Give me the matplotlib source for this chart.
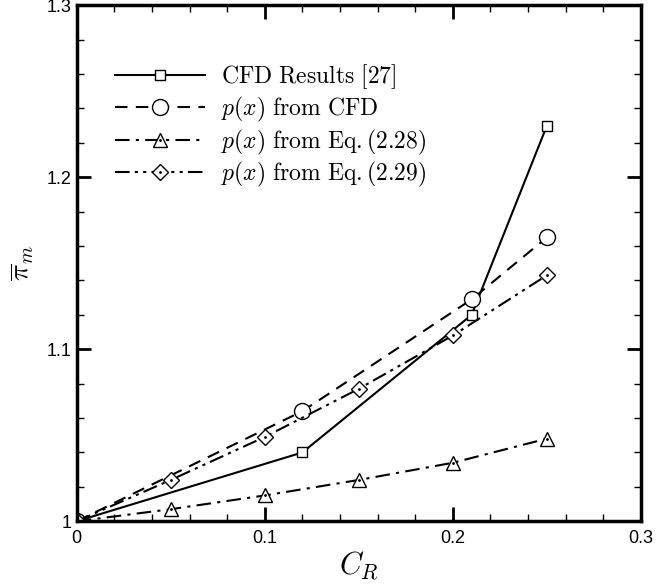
import matplotlib
matplotlib.use("Agg")
import matplotlib.pyplot as plt
from matplotlib.ticker import MultipleLocator
from matplotlib.legend_handler import HandlerTuple

plt.rcParams['mathtext.fontset'] = 'cm'
plt.rcParams['font.family'] = ['Liberation Sans', 'DejaVu Sans']

# data
cfd_x = [0.0, 0.12, 0.21, 0.25]
cfd_y = [1.0, 1.04, 1.12, 1.23]
pcfd_x = [0.0, 0.12, 0.21, 0.25]
pcfd_y = [1.0, 1.064, 1.129, 1.165]
eq28_x = [0.0, 0.05, 0.10, 0.15, 0.20, 0.25]
eq28_y = [1.0, 1.007, 1.015, 1.024, 1.034, 1.048]
eq29_x = [0.0, 0.05, 0.10, 0.15, 0.20, 0.25]
eq29_y = [1.0, 1.024, 1.049, 1.077, 1.108, 1.143]

xticks = [0, 0.1, 0.2, 0.3]
xticklabels = ['0', '0.1', '0.2', '0.3']
yticks = [1.0, 1.1, 1.2, 1.3]
yticklabels = ['1', '1.1', '1.2', '1.3']

labels = [r'$\mathrm{CFD\ Results\ [27]}$',
          r'$p(x)\ \mathrm{from\ CFD}$',
          r'$p(x)\ \mathrm{from\ Eq.(2.28)}$',
          r'$p(x)\ \mathrm{from\ Eq.(2.29)}$']

fig = plt.figure(figsize=(6.56, 5.85), dpi=100)
ax = fig.add_axes([0.117, 0.109, 0.860, 0.882])

lw = 1.5
l1, = ax.plot(cfd_x, cfd_y, 'k-', lw=lw, marker='s', ms=7.5, mfc='white', mec='k', mew=1.0)
l2, = ax.plot(pcfd_x, pcfd_y, 'k', ls=(0, (6, 4)), lw=lw, marker='o', ms=11.5, mfc='white', mec='k', mew=1.0)
l3, = ax.plot(eq28_x, eq28_y, 'k', ls=(0, (7, 3, 1.5, 3)), lw=lw, marker='^', ms=10.5, mfc='white', mec='k', mew=1.0)
d3, = ax.plot(eq28_x, eq28_y, 'k', ls='none', marker='.', ms=2)
l4, = ax.plot(eq29_x, eq29_y, 'k', ls=(0, (7, 2.5, 1.5, 2.5, 1.5, 2.5)), lw=lw, marker='D', ms=8.5, mfc='white', mec='k', mew=1.0)
d4, = ax.plot(eq29_x, eq29_y, 'k', ls='none', marker='.', ms=2)

ax.set_xlim(0, 0.3)
ax.set_ylim(1.0, 1.3)
ax.set_xticks(xticks)
ax.set_xticklabels(xticklabels)
ax.set_yticks(yticks)
ax.set_yticklabels(yticklabels)
ax.xaxis.set_minor_locator(MultipleLocator(0.02))
ax.yaxis.set_minor_locator(MultipleLocator(0.02))
ax.tick_params(which='both', direction='in', top=True, right=True, labelsize=13, width=1.5)
ax.tick_params(which='major', length=10, width=2)
ax.tick_params(which='minor', length=5, width=1)
ax.tick_params(axis='x', pad=6)
for s in ax.spines.values():
    s.set_linewidth(2.5)

ax.set_xlabel(r'$C_R$', fontsize=22, labelpad=2)
ax.set_ylabel(r'$\overline{\pi}_m$', fontsize=20, labelpad=8)

ax.legend([l1, l2, (l3, d3), (l4, d4)], labels,
          handler_map={tuple: HandlerTuple(ndivide=1)},
          loc='upper left', bbox_to_anchor=(0.03, 0.93), frameon=False,
          fontsize=17, handlelength=3.8, numpoints=1, labelspacing=0.15,
          handletextpad=0.7, borderaxespad=0.5)

fig.savefig('out.png', dpi=100)
